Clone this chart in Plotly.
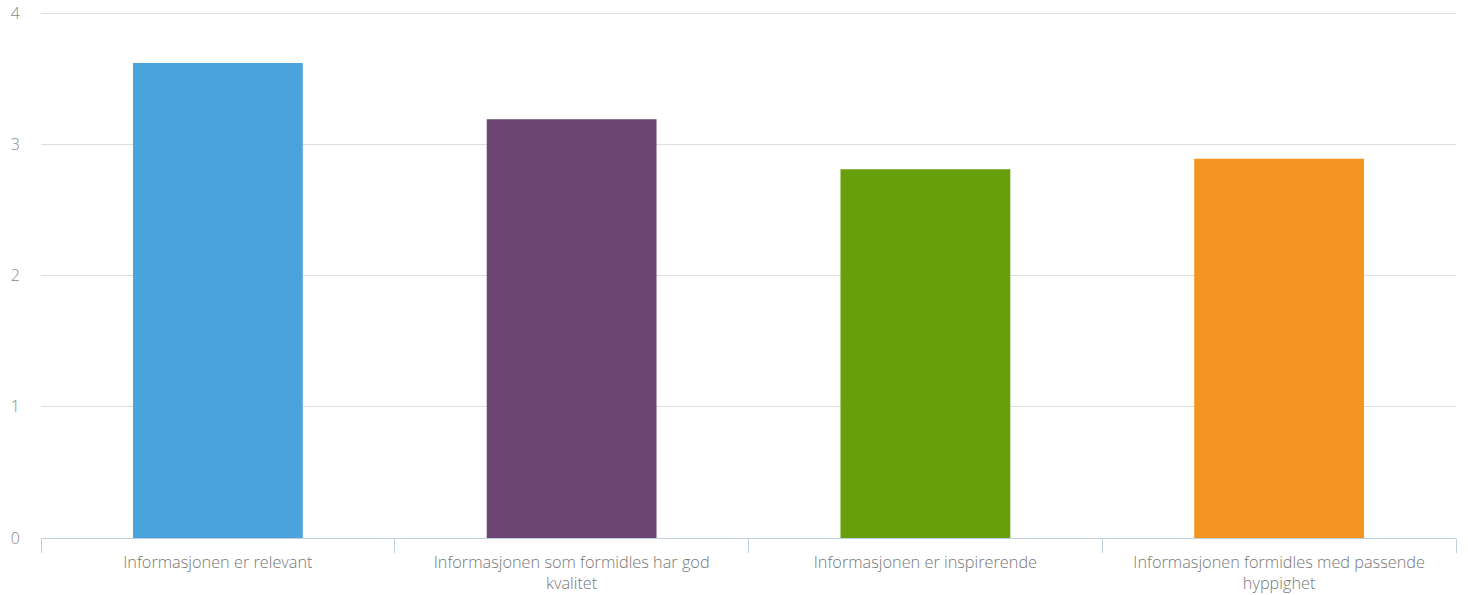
import plotly.graph_objects as go

categories = [
    "Informasjonen er relevant",
    "Informasjonen som formidles har god<br>kvalitet",
    "Informasjonen er inspirerende",
    "Informasjonen formidles med passende<br>hyppighet",
]
values = [3.62, 3.19, 2.81, 2.89]
colors = ["#4AA3DA", "#6C4572", "#669F0B", "#F49422"]
y_ticks = [0, 1, 2, 3, 4]

fig = go.Figure(
    go.Bar(
        x=categories,
        y=values,
        marker=dict(color=colors, line=dict(width=0)),
        width=0.48,
        hoverinfo="skip",
    )
)

fig.update_layout(
    width=1468,
    height=595,
    margin=dict(l=41, r=12, t=12, b=57, pad=0),
    plot_bgcolor="white",
    paper_bgcolor="white",
    showlegend=False,
    font=dict(family="Open Sans", color="#777777", weight=300),
    xaxis=dict(
        type="category",
        automargin=False,
        tickson="boundaries",
        ticks="outside",
        ticklen=14,
        tickcolor="#C0D0E0",
        tickwidth=1,
        showline=True,
        linecolor="#C0D0E0",
        linewidth=1,
        showgrid=False,
        ticklabelstandoff=9,
        tickfont=dict(size=16.3, color="#777777", family="Open Sans", weight=300),
        fixedrange=True,
    ),
    yaxis=dict(
        range=[0, 4.008],
        automargin=False,
        tickvals=y_ticks,
        showgrid=True,
        gridcolor="#DDDDDD",
        gridwidth=1,
        zeroline=False,
        showline=False,
        ticks="",
        ticklabelstandoff=20,
        tickfont=dict(size=16, color="#888888", family="Open Sans", weight=300),
        fixedrange=True,
    ),
)

fig.write_html(
    "out.html",
    config={"displayModeBar": False},
    post_script="document.body.style.margin='0';",
)
